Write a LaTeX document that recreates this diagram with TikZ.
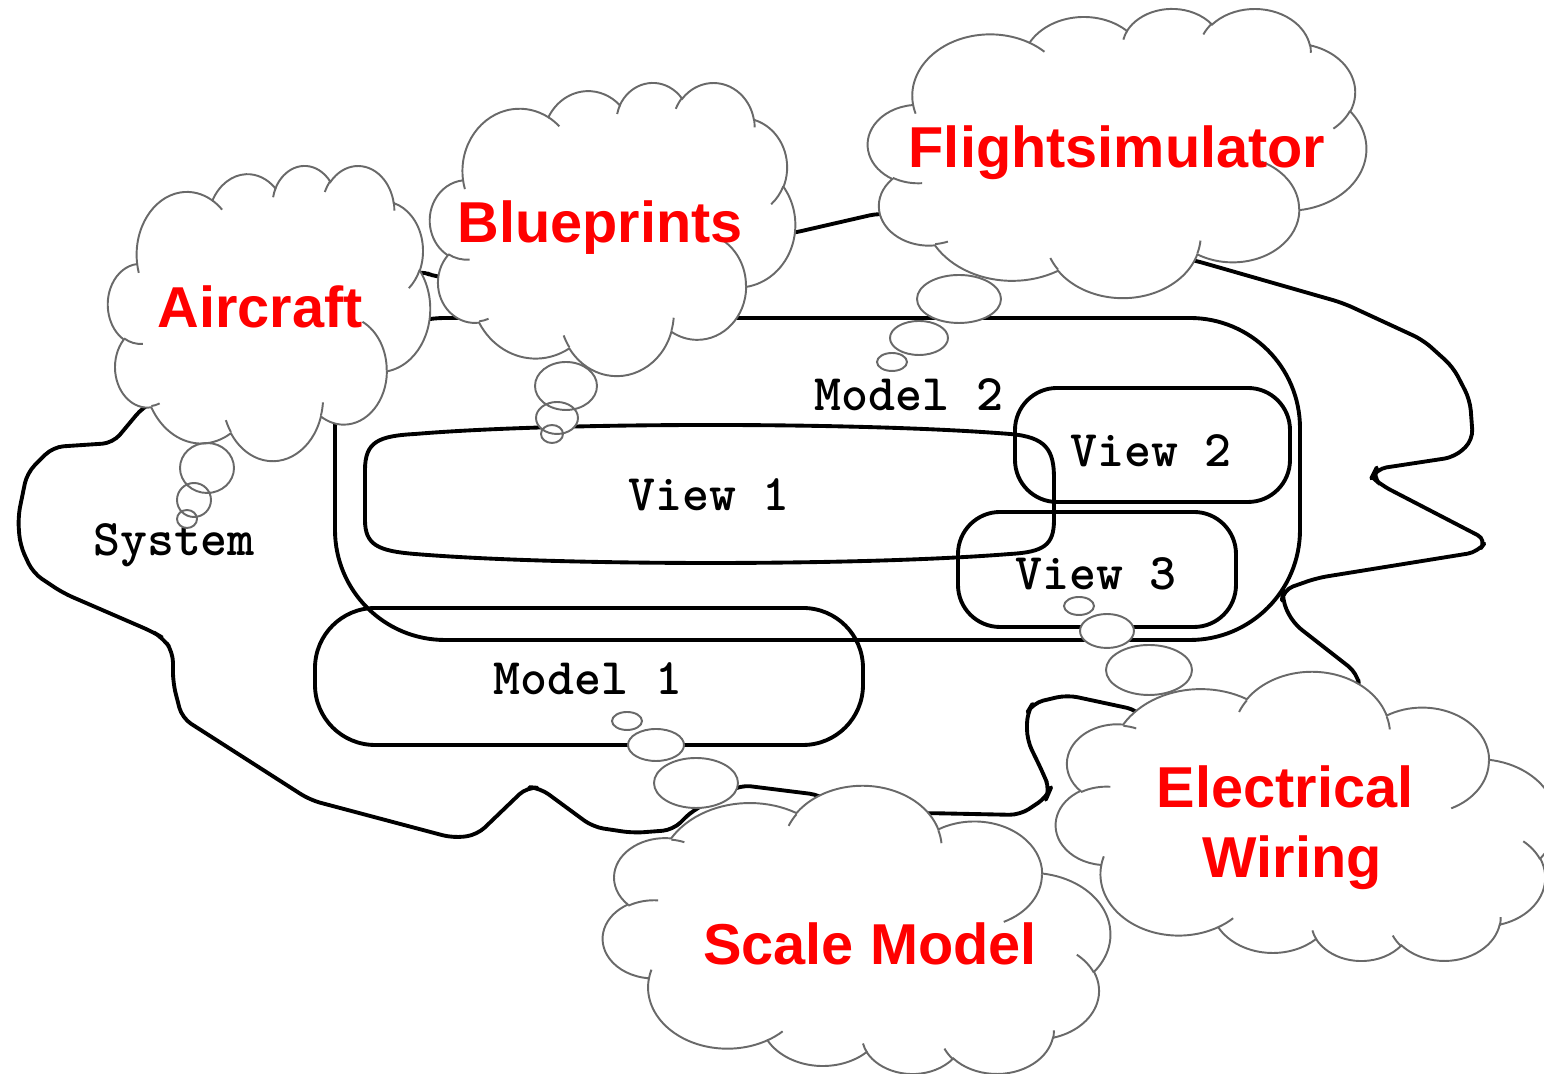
\documentclass[tikz,border=0pt]{standalone}
\usepackage{fontspec}
\setmainfont{Liberation Sans}
\usepackage{tikz}

\definecolor{cloudgray}{RGB}{105,105,105}
\definecolor{labelred}{RGB}{255,0,0}

% visual angle -> parametric angle on an ellipse
\makeatletter
\pgfmathdeclarefunction{cldang}{3}{%
  \begingroup
    \pgfmathparse{atan2((#1)*sin(#3),(#2)*cos(#3))}%
    \pgfmath@smuggleone\pgfmathresult
  \endgroup}
\pgfmathdeclarefunction{clddel}{4}{%
  \begingroup
    \pgfmathsetmacro\cldta{atan2((#1)*sin(#3),(#2)*cos(#3))}%
    \pgfmathsetmacro\cldtb{atan2((#1)*sin((#3)+(#4)),(#2)*cos((#3)+(#4)))}%
    \pgfmathsetmacro\cldtd{(\cldtb)-(\cldta)}%
    \pgfmathparse{(\cldtd)+360*round(((#4)-(\cldtd))/360)}%
    \pgfmath@smuggleone\pgfmathresult
  \endgroup}
\makeatother

% cloud with thought bubbles: corner x, corner y, width, height, bubbles x/y/rx/ry
% (a negative height turns the cloud upside down, corner y is then its bottom)
\newcommand{\thoughtcloud}[5]{%
  \fill[white] foreach \bx/\by/\brx/\bry in {#5} {(\bx,\by) ellipse [x radius=\brx, y radius=\bry]};
  \pgfmathsetmacro\cldsx{#3/4320}%
  \pgfmathsetmacro\cldsy{-(#4)/4320}%
  \begin{scope}[shift={(#1,#2)}, x=\cldsx cm, y=\cldsy cm]
    \filldraw[cloudline, fill=white] (3.900,14.370)
      arc[puff={6.753}{9.190}{-190.4875}{123.7805}]
      arc[puff={5.333}{7.267}{-144.1024}{89.9452}]
      arc[puff={4.365}{5.945}{-145.8079}{99.7230}]
      arc[puff={4.857}{6.595}{-130.9861}{117.2417}]
      arc[puff={5.333}{7.273}{-78.7089}{109.0269}]
      arc[puff={6.775}{9.220}{-46.2673}{130.2690}]
      arc[puff={5.785}{7.867}{0.6250}{114.0333}]
      arc[puff={6.752}{9.215}{22.4516}{115.1726}]
      arc[puff={7.720}{10.543}{66.2426}{75.7110}]
      arc[puff={4.360}{5.918}{-274.9421}{146.7356}]
      arc[puff={4.345}{5.945}{-246.8285}{152.5189}]
      -- cycle;
    % inner hooks
    \draw[cloudline]
      (4.693,26.177) arc[puff={4.345}{5.945}{86.7420}{26.4295}]
      (6.928,34.899) arc[puff={4.360}{5.918}{73.6105}{11.4475}]
      (16.478,39.090) arc[puff={6.752}{9.215}{137.6242}{14.0811}]
      (28.827,34.751) arc[puff={6.752}{9.215}{6.4533}{15.9984}]
      (34.129,22.954) arc[puff={5.785}{7.867}{-70.2924}{70.9174}]
      (41.798,15.354) arc[puff={5.333}{7.273}{30.3180}{27.7515}]
      (38.324,5.426) arc[puff={4.857}{6.595}{-13.7443}{14.8589}]
      (29.078,3.952) arc[puff={4.857}{6.595}{-149.1815}{18.1954}]
      (22.141,4.720) arc[puff={4.365}{5.945}{-163.4943}{17.6864}]
      (14.000,5.192) arc[puff={6.753}{9.190}{-66.7070}{12.3194}]
      (4.127,15.789) arc[puff={6.753}{9.190}{157.6544}{11.8582}];
  \end{scope}
  \draw[cloudline] foreach \bx/\by/\brx/\bry in {#5} {(\bx,\by) ellipse [x radius=\brx, y radius=\bry]};
}

\begin{document}
\begin{tikzpicture}[
    x=0.01cm, y=-0.01cm,
    boundary/.style={draw=black, line width=1.1pt, line join=round},
    cloudline/.style={draw=cloudgray, line width=0.55pt},
    puff/.style n args={4}{x radius=#1, y radius=#2,
      start angle={cldang(#1,#2,#3)}, delta angle={clddel(#1,#2,#3,#4)}},
    cloudlabel/.style={anchor=base, text=labelred, font=\fontsize{16.4}{19.7}\selectfont\bfseries},
    boxlabel/.style={anchor=base, font=\ttfamily\bfseries\fontsize{14.6}{17}\selectfont}
]
    \useasboundingbox (0,0) rectangle (1544,1074);
    \clip (0,0) rectangle (1544,1074);

    % System outline
    \draw[boundary, rounded corners=3pt] (437,278) -- (793,233) -- (880,213) -- (1193,260)
      -- (1343,303) -- (1423,340) -- (1453,367) -- (1470,400) -- (1473,440) -- (1455,457)
      -- (1376,469) -- (1372,477) -- (1381,485) -- (1487,540) -- (1478,552) -- (1317,578)
      -- (1283,590) -- (1282,600) -- (1293,623) -- (1357,673) -- (1360,690) -- (1300,760)
      -- (1180,760) -- (1137,710) -- (1067,695) -- (1033,703) -- (1027,713) -- (1027,740)
      -- (1043,773) -- (1050,790) -- (1047,797) -- (1020,815) -- (923,813) -- (870,830)
      -- (820,795) -- (740,785) -- (715,800) -- (693,810) -- (673,830) -- (633,833)
      -- (593,827) -- (540,788) -- (527,787) -- (477,835) -- (453,838) -- (310,800)
      -- (182,718) -- (173,683) -- (173,652) -- (163,638) -- (153,632) -- (63,593)
      -- (33,573) -- (20,545) -- (18,517) -- (27,473) -- (53,447) -- (113,443)
      -- (143,407) -- (420,270) -- cycle;
    \node[boxlabel] (system) at (174,556) {System};

    % Models
    \draw[boundary, rounded corners=1.1cm] (335,318) rectangle (1300,640);
    \node[boxlabel] (model2) at (909,411) {Model 2};
    \draw[boundary, rounded corners=0.6cm] (315,608) rectangle (863,745);
    \node[boxlabel] (model1) at (588,695) {Model 1};

    % Views
    \draw[boundary] (365,470) .. controls (365,442) and (378,436) .. (415,434)
      .. controls (560,422) and (860,422) .. (1010,434)
      .. controls (1046,437) and (1054,450) .. (1054,478)
      -- (1054,520)
      .. controls (1054,545) and (1044,552) .. (1010,554)
      .. controls (860,566) and (560,566) .. (415,554)
      .. controls (378,551) and (365,545) .. (365,520)
      -- cycle;
    \node[boxlabel] (view1) at (709,511) {View 1};
    \draw[boundary, rounded corners=0.42cm] (1015,388) rectangle (1290,502);
    \node[boxlabel] (view2) at (1151,467) {View 2};
    \draw[boundary, rounded corners=0.42cm] (958,512) rectangle (1236,627);
    \node[boxlabel] (view3) at (1096,590) {View 3};

    % Clouds
    \thoughtcloud{108}{165}{322}{295}{207/468/27/25, 194/500/17/17, 187/519/10/9}
    \node[cloudlabel] (aircraft) at (260,328) {Aircraft};

    \thoughtcloud{430}{82}{365}{293}{566/386/31/24, 557/418/21/16, 552/434/11/9}
    \node[cloudlabel] (blueprints) at (600,243) {Blueprints};

    \thoughtcloud{868}{8}{498}{289}{959/299/42/24, 919/338/29/17, 892/362/15/9}
    \node[cloudlabel] (flightsim) at (1117,168) {Flightsimulator};

    \thoughtcloud{1056}{962}{500}{-289}{1149/670/43/25, 1107/631/27/17, 1079/606/15/9}
    \node[cloudlabel] (electrical) at (1285,808) {Electrical};
    \node[cloudlabel] (wiring) at (1292,878) {Wiring};

    \thoughtcloud{603}{1075}{507}{-288}{696/783/42/25, 656/745/28/16, 627/721/15/9}
    \node[cloudlabel] (scalemodel) at (870,965) {Scale Model};
\end{tikzpicture}
\end{document}
